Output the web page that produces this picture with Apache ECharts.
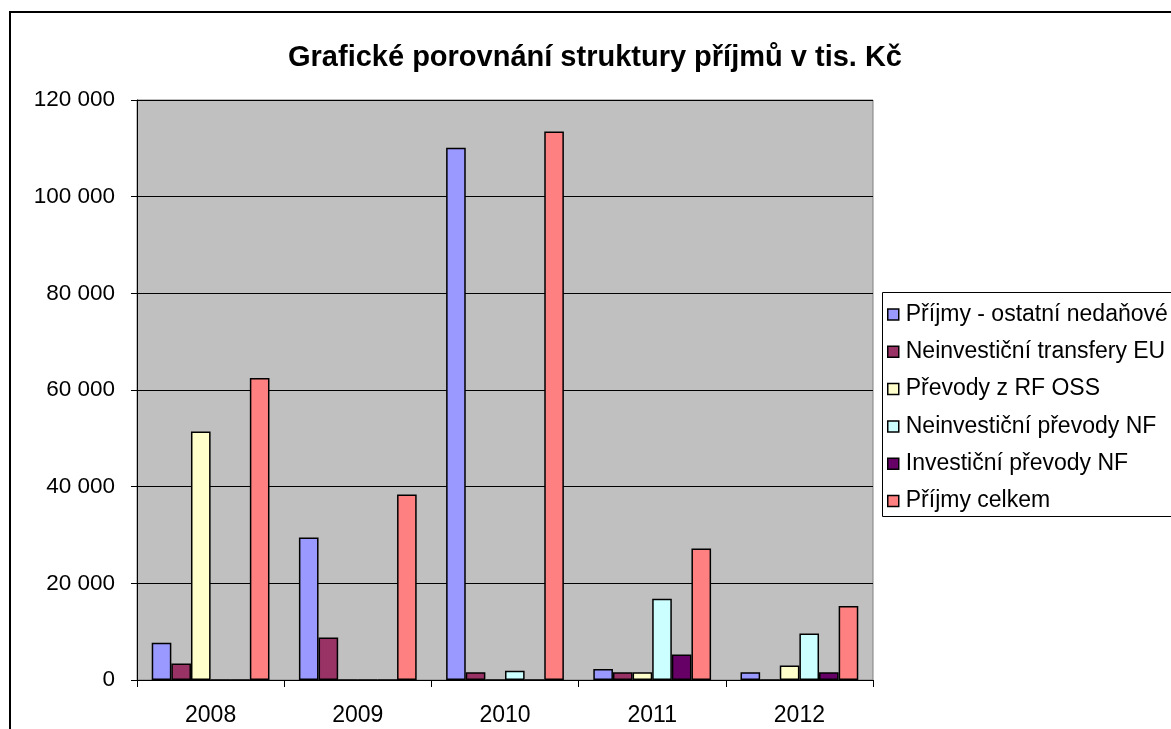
<!DOCTYPE html>
<html>
<head>
<meta charset="utf-8">
<title>Grafické porovnání struktury příjmů</title>
<script src="https://cdn.jsdelivr.net/npm/echarts@6/dist/echarts.min.js"></script>
<style>
  html, body { margin: 0; padding: 0; background: #fff; }
  #chart { width: 1171px; height: 729px; }
</style>
</head>
<body>
<div id="chart"></div>
<script>
// roky (kategorie)
const years = ["2008", "2009", "2010", "2011", "2012"];

// hodnoty v tis. Kč
const prijmyOstatni = [7700, 29500, 110100, 2300, 1600];
const transferyEU = [3400, 8800, 1600, 1600, 0];
const prevodyRF = [51400, 0, 0, 1600, 3000];
const neinvPrevodyNF = [0, 0, 1900, 16800, 9600];
const invPrevodyNF = [0, 0, 0, 5300, 1600];
const prijmyCelkem = [62500, 38400, 113500, 27200, 15300];

const seriesNames = [
  "Příjmy - ostatní nedaňové",
  "Neinvestiční transfery EU",
  "Převody z RF OSS",
  "Neinvestiční převody NF",
  "Investiční převody NF",
  "Příjmy celkem",
];
const seriesData = [prijmyOstatni, transferyEU, prevodyRF, neinvPrevodyNF, invPrevodyNF, prijmyCelkem];
const colors = ["#9999FF", "#993366", "#FFFFCC", "#CCFFFF", "#660066", "#FF8080"];

const yTicks = [0, 20000, 40000, 60000, 80000, 100000, 120000];

const font = "Arial, 'Liberation Sans', sans-serif";

const chart = echarts.init(document.getElementById("chart"));

const options = {
  animation: false,
  color: colors,
  graphic: [
    {
      // rámeček celého grafu (vpravo a dole oříznutý)
      type: "rect",
      shape: { x: 10, y: 12, width: 1200, height: 800 },
      style: { fill: "none", stroke: "#000", lineWidth: 2 },
      z: 0,
    },
    {
      type: "text",
      x: 595,
      y: 58,
      style: {
        text: "Grafické porovnání struktury příjmů v tis. Kč",
        font: "bold 29px " + font,
        fill: "#000",
        textAlign: "center",
        textVerticalAlign: "middle",
      },
    },
    {
      // rámeček legendy
      type: "rect",
      shape: { x: 882.5, y: 292.5, width: 300, height: 224 },
      style: { fill: "#fff", stroke: "#000", lineWidth: 1 },
      z: 1,
    },
  ],
  legend: {
    orient: "vertical",
    left: 882,
    top: 303,
    padding: [0, 0, 0, 5],
    itemWidth: 11,
    itemHeight: 11,
    itemGap: 14.3,
    icon: "rect",
    z: 5,
    itemStyle: { borderColor: "#000", borderWidth: 1.5 },
    textStyle: { fontFamily: font, fontSize: 23, color: "#000", lineHeight: 23, padding: [0, 0, 0, 2] },
    data: seriesNames,
  },
  grid: {
    left: 137,
    top: 100,
    width: 736,
    height: 580,
    show: true,
    backgroundColor: "#C0C0C0",
    borderColor: "#808080",
    borderWidth: 1,
  },
  xAxis: {
    type: "category",
    data: years,
    axisLine: { lineStyle: { color: "#000", width: 1 } },
    axisTick: { show: true, length: 7, lineStyle: { color: "#000" } },
    axisLabel: { fontFamily: font, fontSize: 23, color: "#000", margin: 24 },
  },
  yAxis: {
    type: "value",
    min: yTicks[0],
    max: yTicks[yTicks.length - 1],
    interval: 20000,
    axisLine: { show: true, lineStyle: { color: "#000", width: 1 } },
    axisTick: { show: true, length: 6, lineStyle: { color: "#000" } },
    splitLine: { lineStyle: { color: "#000", width: 1 } },
    axisLabel: {
      fontFamily: font,
      fontSize: 22.5,
      color: "#000",
      margin: 22,
      formatter: (v) => String(v).replace(/\B(?=(\d{3})+(?!\d))/g, " "),
    },
  },
  series: seriesNames.map((name, i) => ({
    name: name,
    type: "bar",
    data: seriesData[i],
    barGap: "0%",
    barCategoryGap: "20%",
    itemStyle: { color: colors[i], borderColor: "#000", borderWidth: 1.5 },
  })),
};

chart.setOption(options);
</script>
</body>
</html>
